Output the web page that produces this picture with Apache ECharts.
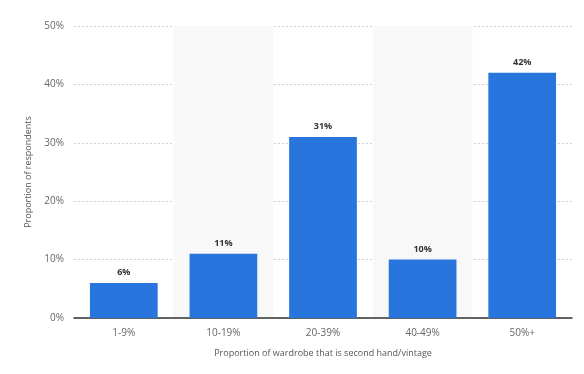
<!DOCTYPE html>
<html><head><meta charset="utf-8">
<script src="https://cdn.jsdelivr.net/npm/echarts@6/dist/echarts.min.js"></script>
<style>html,body{margin:0;padding:0;background:#fff}#c{width:584px;height:374px}</style>
</head><body><div id="c"></div>
<script>
const categories = ['1-9%', '10-19%', '20-39%', '40-49%', '50%+'];
const values = [6, 11, 31, 10, 42];
const yTicks = [0, 10, 20, 30, 40, 50];

const chart = echarts.init(document.getElementById('c'));
chart.setOption({
  animation: false,
  backgroundColor: '#fff',
  textStyle: { fontFamily: 'Open Sans' },
  grid: { left: 74, right: 12, top: 26, bottom: 56 },
  xAxis: {
    type: 'category',
    data: categories,
    name: 'Proportion of wardrobe that is second hand/vintage',
    nameLocation: 'middle',
    nameGap: 31,
    nameTextStyle: { color: '#555', fontSize: 9, fontFamily: 'Open Sans' },
    axisLine: { lineStyle: { color: '#333', width: 1.5 } },
    axisTick: { show: false },
    axisLabel: { color: '#666', fontSize: 10, margin: 10 },
    splitArea: { show: true, areaStyle: { color: ['rgba(255,255,255,0)', '#f8f8f8'] } },
    splitLine: { show: false }
  },
  yAxis: {
    type: 'value',
    min: 0, max: 50, interval: 10,
    name: 'Proportion of respondents',
    nameLocation: 'middle',
    nameGap: 36,
    nameTextStyle: { color: '#555', fontSize: 9, fontFamily: 'Open Sans' },
    axisLine: { show: false },
    axisTick: { show: false },
    axisLabel: { color: '#666', fontSize: 10, margin: 10, formatter: v => yTicks.includes(v) ? v + '%' : '' },
    splitLine: { lineStyle: { color: '#d0d0d0', type: [2, 2], width: 1 } }
  },
  series: [{
    type: 'bar',
    data: values,
    barWidth: '68%',
    itemStyle: { color: '#2876dd' },
    label: { show: true, position: 'top', distance: 6, color: '#333', fontWeight: 'bold', fontSize: 9, formatter: p => p.value + '%' }
  }]
});
</script></body></html>
